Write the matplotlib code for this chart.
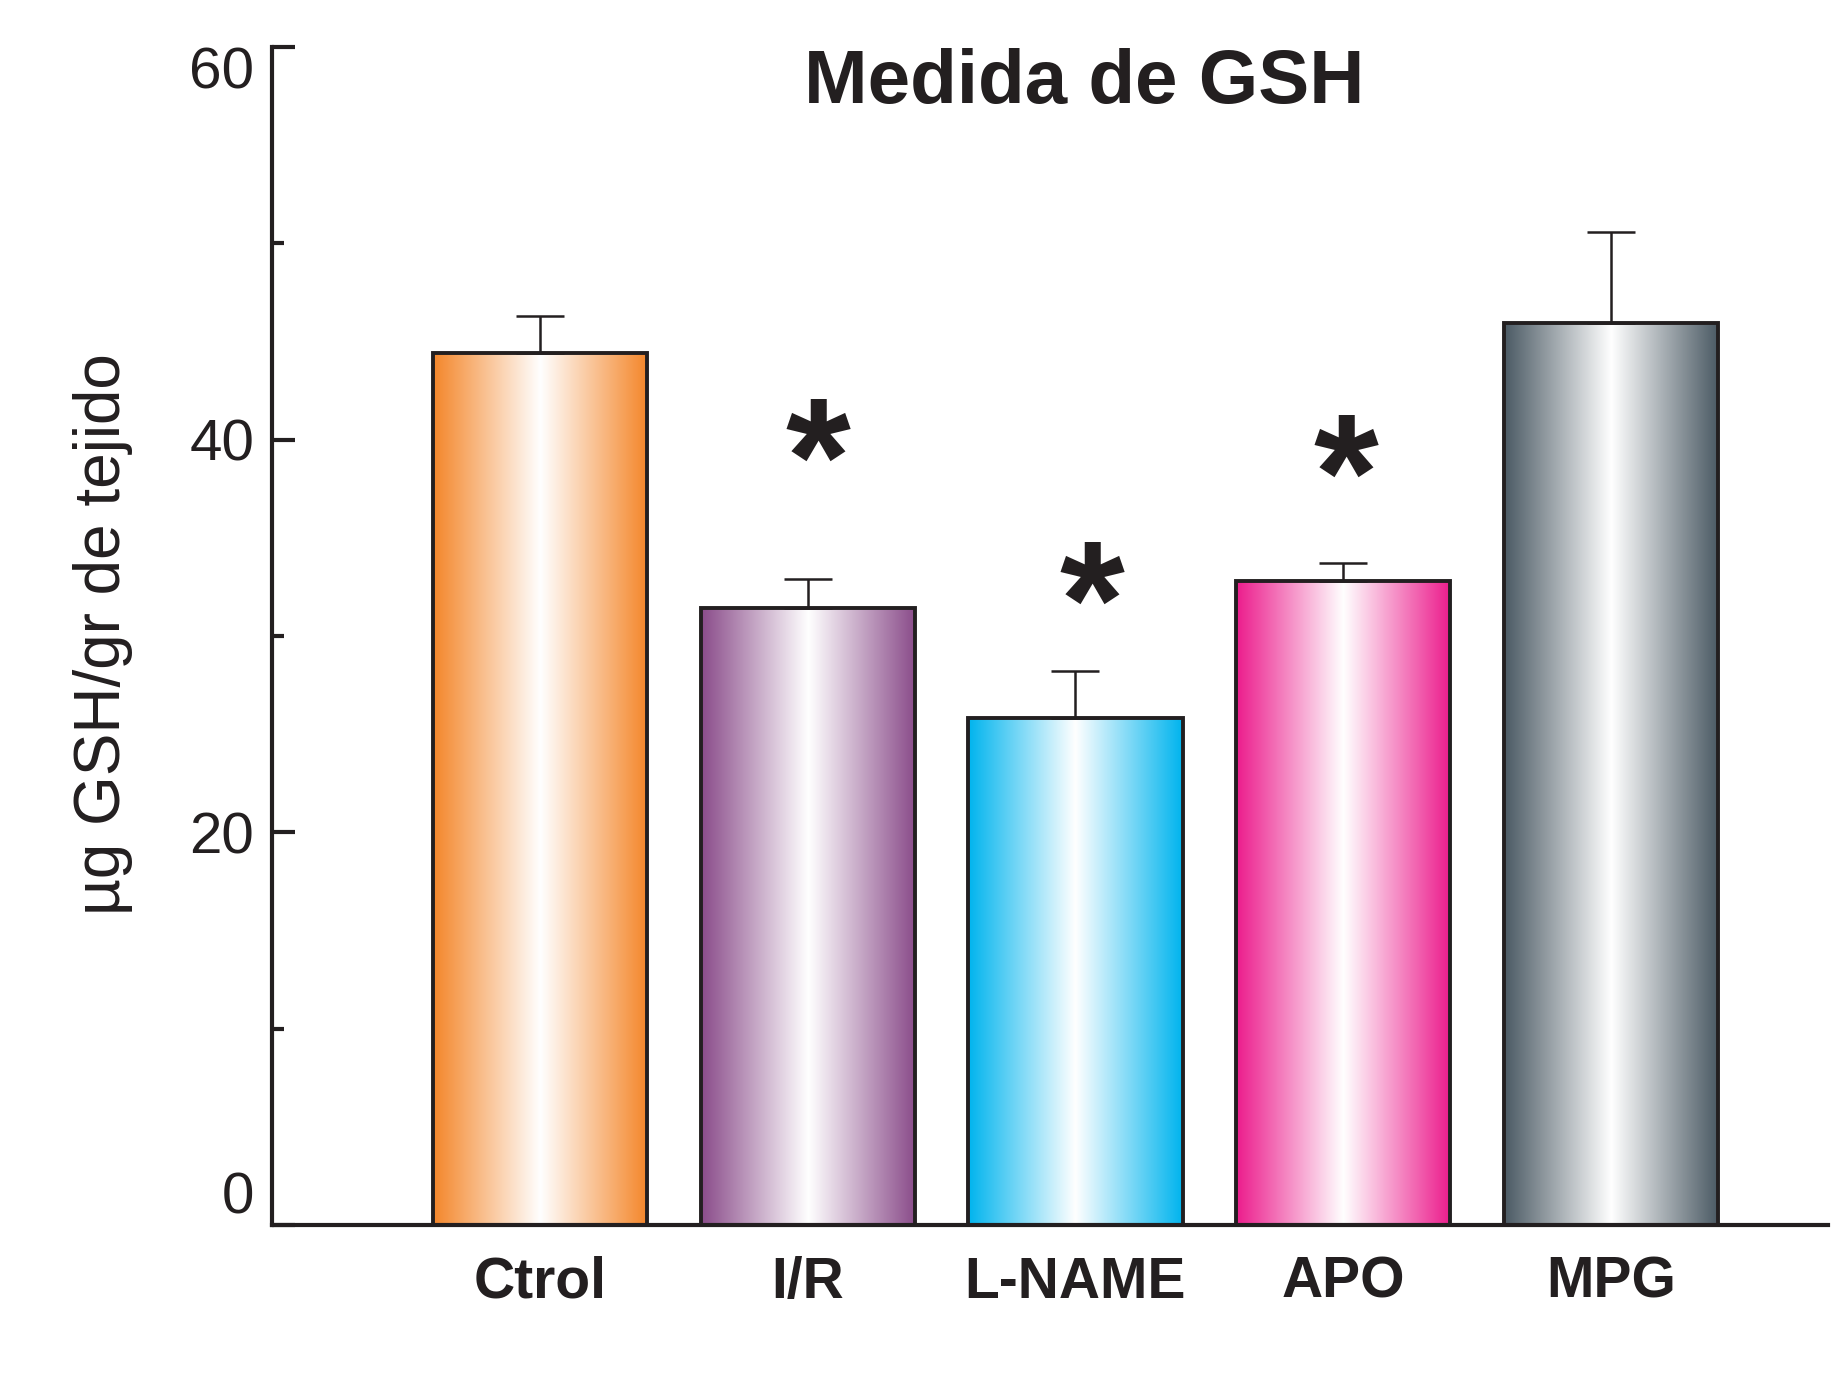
import numpy as np
import matplotlib
matplotlib.use('Agg')
import matplotlib.pyplot as plt
from matplotlib.colors import LinearSegmentedColormap

# datos
grupos = ['Ctrol', 'I/R', 'L-NAME', 'APO', 'MPG']
gsh = [44.4, 31.4, 25.8, 32.8, 45.95]
err = [1.9, 1.5, 2.4, 0.9, 4.65]
colores = ['#F4862A', '#8A4C8A', '#00B4EE', '#EC1C8C', '#4B5A64']
# grupos con diferencia significativa (*) y posición del asterisco
sig = ['I/R', 'L-NAME', 'APO']
sig_y = [39.3, 32.0, 38.5]
sig_dx = [0.04, 0.06, 0.01]

plt.rcParams['font.family'] = ['Liberation Sans', 'DejaVu Sans']
negro = '#231F20'

fig = plt.figure(figsize=(18.47, 13.97), dpi=100)
ax = fig.add_axes([0.1473, 0.1231, 0.8424, 0.8433])

x = np.arange(len(grupos))
ancho = 0.80
barras = ax.bar(x, gsh, width=ancho, facecolor='none', edgecolor=negro,
                linewidth=2.8, zorder=3)

# relleno degradado: color en los bordes, blanco en el centro
u = np.linspace(0, 1, 256)
perfil = 1 - np.abs(2 * u - 1)
for rect, c in zip(barras, colores):
    cmap = LinearSegmentedColormap.from_list('g', [c, '#FFFFFF'])
    x0, w, h = rect.get_x(), rect.get_width(), rect.get_height()
    im = ax.imshow(perfil[np.newaxis, :], extent=[x0, x0 + w, 0, h],
                   aspect='auto', cmap=cmap, vmin=0, vmax=1, zorder=2,
                   interpolation='bilinear')
    im.set_clip_path(rect)

ax.errorbar(x, gsh, yerr=[np.zeros(len(err)), err], fmt='none',
            ecolor=negro, elinewidth=1.8, capsize=17, capthick=1.8, zorder=4)

for g, yy, dx in zip(sig, sig_y, sig_dx):
    i = grupos.index(g)
    ax.text(i + dx, yy, '*', ha='center', va='center_baseline',
            fontsize=120, fontweight='bold', color=negro)

ax.set_xlim(-1.0, 4.81)
ax.set_ylim(0, 60)

for s in ['top', 'right']:
    ax.spines[s].set_visible(False)
for s in ['left', 'bottom']:
    ax.spines[s].set_linewidth(3)
    ax.spines[s].set_color(negro)

ax.set_yticks([0, 20, 40, 60])
ax.set_yticks([10, 30, 50], minor=True)
ax.tick_params(axis='y', which='major', direction='in', length=16.5, width=3,
               color=negro, labelsize=42, pad=13, labelcolor=negro)
ax.tick_params(axis='y', which='minor', direction='in', length=8.6, width=3,
               color=negro)
ax.set_xticks(x)
ax.set_xticklabels(grupos, fontweight='bold')
ax.tick_params(axis='x', length=0, labelsize=41, pad=22, labelcolor=negro)

# el "0" queda por encima del eje y el "60" un poco por debajo de su marca
etiq = ax.yaxis.get_majorticklabels()
etiq[0].set_va('bottom')
etiq[-1].set_va('top')

fig.text(0.587, 0.940, 'Medida de GSH', ha='center', va='center',
         fontsize=55, fontweight='bold', color=negro)
fig.text(0.056, 0.546, 'µg GSH/gr de tejido', rotation=90, ha='center',
         va='center', fontsize=46, color=negro)

fig.savefig('out.png', dpi=100)
